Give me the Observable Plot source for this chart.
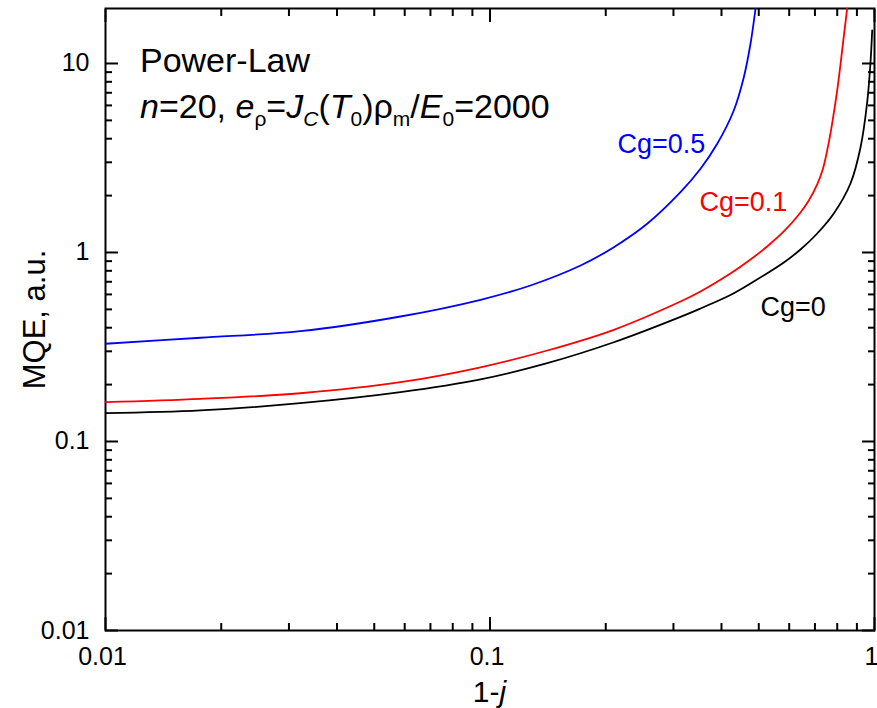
<!DOCTYPE html>
<html><head><meta charset="utf-8">
<script src="https://cdn.jsdelivr.net/npm/d3@7"></script>
<script src="https://cdn.jsdelivr.net/npm/@observablehq/plot@0.6"></script>
<style>
body{margin:0;background:#fff} svg{display:block}
</style>
</head><body><div id="chart"></div>
<script>
// ---- data ----
const seriesNames = ["Cg=0", "Cg=0.1", "Cg=0.5"];
const seriesColors = ["#000000", "#ff0000", "#0000ff"];

const xCg0 = [0.01, 0.01766, 0.0321, 0.0585, 0.0945, 0.1409, 0.2099, 0.3129, 0.3528, 0.422, 0.4759, 0.581, 0.642, 0.7096, 0.7836, 0.866, 0.9196, 0.957, 0.9763, 0.9863];
const yCg0 = [0.1412, 0.146, 0.1594, 0.1823, 0.213, 0.2597, 0.335, 0.4563, 0.5057, 0.5958, 0.6855, 0.8854, 1.037, 1.2603, 1.6083, 2.318, 3.594, 6.218, 10.12, 14.95];

const xCg01 = [0.01, 0.01766, 0.0321, 0.0585, 0.0945, 0.1409, 0.2099, 0.3129, 0.3528, 0.422, 0.4759, 0.5257, 0.581, 0.642, 0.6747, 0.7096, 0.7347, 0.7605, 0.7798, 0.7998, 0.8157, 0.832, 0.849, 0.8543];
const yCg01 = [0.1614, 0.168, 0.180, 0.206, 0.247, 0.303, 0.390, 0.5504, 0.6217, 0.7742, 0.9183, 1.076, 1.2916, 1.6276, 1.884, 2.290, 2.783, 3.819, 5.117, 7.196, 9.879, 13.90, 19.54, 21.54];

const xCg05 = [0.01, 0.01766, 0.0321, 0.0585, 0.0945, 0.1274, 0.172, 0.2099, 0.2563, 0.3129, 0.3528, 0.3899, 0.4305, 0.4572, 0.4759, 0.4904, 0.4934];
const yCg05 = [0.329, 0.354, 0.3835, 0.4585, 0.562, 0.669, 0.853, 1.067, 1.419, 2.085, 2.773, 3.759, 5.64, 8.46, 12.72, 19.47, 21.5];

const xMajorTicks = [0.01, 0.1, 1];
const xMinorTicks = [0.02,0.03,0.04,0.05,0.06,0.07,0.08,0.09,0.2,0.3,0.4,0.5,0.6,0.7,0.8,0.9];
const yMajorTicks = [0.01, 0.1, 1, 10];
const yMinorTicks = [0.02,0.03,0.04,0.05,0.06,0.07,0.08,0.09,0.2,0.3,0.4,0.5,0.6,0.7,0.8,0.9,2,3,4,5,6,7,8,9];

// curve labels, anchored in data coordinates
const curveLabels = [
  {text: "Cg=0.5", x: 0.2146, y: 3.755, color: "#0000ff"},
  {text: "Cg=0.1", x: 0.3507, y: 1.853, color: "#ff0000"},
  {text: "Cg=0",   x: 0.5053, y: 0.5155, color: "#000000"}
];

// header lines (rich text: i = italic, s = subscript, is = italic subscript)
const headerLines = [
  {x: 0.01233, y: 8.96, parts: [["Power-Law", ""]]},
  {x: 0.01233, y: 5.117, parts: [["n","i"],["=20, ",""],["e","i"],["ρ","s"],["=",""],["J","i"],["C","is"],["(",""],["T","i"],["0","s"],[")ρ",""],["m","s"],["/",""],["E","i"],["0","s"],["=2000",""]]}
];
const yLabel = "MQE, a.u.";
const xLabelParts = [["1-",""],["j","i"]];

// ---- build table ----
const table = [];
[[xCg0,yCg0],[xCg01,yCg01],[xCg05,yCg05]].forEach(([xs, ys], k) => {
  xs.forEach((x, i) => table.push({series: seriesNames[k], x, y: ys[i]}));
});

const FONT = "'Liberation Sans', Arial, sans-serif";

function appendRich(textSel, parts, size) {
  const subSize = Math.round(size * 0.62);
  const shift = Math.round(size * 0.24);
  let cur = 0;
  for (const [str, st] of parts) {
    const sub = st.includes("s");
    const it = st.includes("i");
    const target = sub ? shift : 0;
    const t = textSel.append("tspan").text(str)
      .attr("font-size", sub ? subSize : size)
      .attr("font-style", it ? "italic" : "normal");
    if (target !== cur) { t.attr("dy", target - cur); cur = target; }
  }
}

const headerMark = (index, scales) => {
  const g = d3.create("svg:g").attr("font-family", FONT).attr("fill", "#000").attr("text-anchor", "start");
  for (const line of headerLines) {
    const t = g.append("text")
      .attr("x", scales.x(line.x)).attr("y", scales.y(line.y))
      .attr("text-anchor", "start")
      .attr("font-size", 34);
    appendRich(t, line.parts, 34);
  }
  return g.node();
};

const xLabelMark = (index, scales, values, dims) => {
  const {width, height, marginLeft, marginRight, marginBottom} = dims;
  const g = d3.create("svg:g").attr("font-family", FONT).attr("fill", "#000");
  const t = g.append("text")
    .attr("x", (marginLeft + width - marginRight) / 2)
    .attr("y", height - marginBottom + 72)
    .attr("text-anchor", "middle")
    .attr("font-size", 30);
  appendRich(t, xLabelParts, 30);
  return g.node();
};

const fmt = d => String(d);

const chart = Plot.plot({
  width: 877, height: 708,
  marginLeft: 105, marginRight: 3, marginTop: 8, marginBottom: 78,
  style: {fontFamily: FONT, background: "#fff", color: "#000", overflow: "visible"},
  x: {type: "log", domain: [0.01, 1]},
  y: {type: "log", domain: [0.01, 19.54]},
  color: {domain: seriesNames, range: seriesColors},
  marks: [
    // inward ticks on all four sides
    ...["bottom", "top"].flatMap(a => [
      Plot.axisX({anchor: a, ticks: xMajorTicks, tickSize: -13, strokeWidth: 2, tickFormat: () => "", label: null}),
      Plot.axisX({anchor: a, ticks: xMinorTicks, tickSize: -7, strokeWidth: 2, tickFormat: () => "", label: null})
    ]),
    ...["left", "right"].flatMap(a => [
      Plot.axisY({anchor: a, ticks: yMajorTicks, tickSize: -13, strokeWidth: 2, tickFormat: () => "", label: null}),
      Plot.axisY({anchor: a, ticks: yMinorTicks, tickSize: -7, strokeWidth: 2, tickFormat: () => "", label: null})
    ]),
    // tick labels
    Plot.axisX({anchor: "bottom", ticks: xMajorTicks, tickSize: 0, tickPadding: 17, dx: -3, fontSize: 25, tickFormat: fmt, label: null}),
    Plot.axisY({anchor: "left", ticks: yMajorTicks, tickSize: 0, tickPadding: 16, fontSize: 25, tickFormat: fmt, label: null}),
    Plot.frame({stroke: "#000", strokeWidth: 2}),
    Plot.line(table, {x: "x", y: "y", z: "series", stroke: "series", strokeWidth: 1.8, curve: "catmull-rom", clip: true}),
    Plot.text(curveLabels, {x: "x", y: "y", text: "text", fill: "color", textAnchor: "start", fontSize: 27}),
    Plot.text([yLabel], {frameAnchor: "left", text: d => d, rotate: -90, dx: -70, textAnchor: "middle", fontSize: 31, fill: "#000"}),
    headerMark,
    xLabelMark
  ]
});
document.getElementById("chart").appendChild(chart);
</script>
</body></html>
